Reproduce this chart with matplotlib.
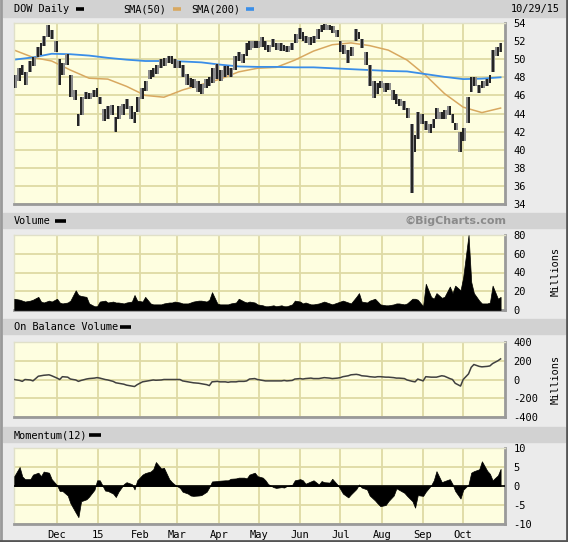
import numpy as np
import pandas as pd
import matplotlib
matplotlib.use("Agg")
import matplotlib.pyplot as plt
from matplotlib.patches import Rectangle
from matplotlib.lines import Line2D

# one bar every 2 business days, 2014-10-30 .. 2015-10-29
days = pd.bdate_range("2014-10-30", "2015-10-29")[::2]

price_high = [48.2, 49.0, 49.4, 48.6, 49.8, 50.2, 51.4, 51.8, 52.6, 53.8,
              53.2, 52.0, 50.0, 49.6, 50.6, 48.2, 46.6, 44.0, 45.8, 46.4,
              46.3, 46.6, 46.8, 45.8, 44.5, 44.8, 44.9, 43.6, 44.8, 45.0,
              45.6, 44.8, 44.2, 45.8, 46.8, 47.6, 48.8, 49.0, 49.4, 50.0,
              50.1, 50.4, 50.3, 50.0, 49.8, 49.4, 48.4, 47.9, 47.8, 47.6,
              47.3, 47.8, 48.0, 49.0, 49.5, 48.8, 49.2, 49.3, 49.0, 50.3,
              50.8, 50.6, 51.8, 52.0, 52.0, 52.0, 52.4, 52.0, 51.6, 52.2,
              51.8, 51.8, 51.6, 51.5, 51.8, 52.8, 53.4, 53.0, 52.6, 52.4,
              52.6, 53.3, 53.8, 53.9, 53.8, 53.7, 53.2, 52.0, 51.6, 51.0,
              51.4, 53.3, 53.0, 52.2, 50.8, 49.4, 47.6, 47.4, 47.6, 47.4,
              47.4, 46.6, 46.2, 45.6, 45.4, 44.6, 42.8, 41.6, 44.2, 44.0,
              43.2, 42.8, 43.4, 44.6, 44.2, 44.4, 44.8, 44.0, 43.0, 42.0,
              42.4, 45.8, 48.0, 48.0, 47.2, 47.6, 47.8, 48.2, 51.0, 51.3,
              51.8]
price_low = [46.8, 47.6, 48.2, 47.2, 48.6, 49.2, 50.2, 50.5, 51.5, 52.4,
             52.2, 50.8, 47.2, 48.2, 49.4, 45.8, 45.5, 42.6, 43.8, 45.6,
             45.6, 45.8, 45.8, 45.0, 43.2, 43.4, 43.8, 42.0, 43.4, 43.8,
             44.5, 43.4, 43.0, 44.2, 45.6, 46.5, 47.8, 48.0, 48.4, 49.0,
             49.2, 49.6, 49.5, 49.0, 49.0, 48.0, 47.2, 46.9, 46.8, 46.4,
             46.1, 46.8, 47.0, 47.4, 47.8, 47.6, 48.0, 48.3, 48.0, 48.8,
             49.8, 49.6, 50.4, 51.0, 51.2, 51.2, 51.4, 51.0, 50.8, 51.3,
             51.0, 50.9, 50.9, 50.8, 51.0, 51.8, 52.2, 52.0, 51.8, 51.6,
             51.8, 52.2, 53.0, 53.2, 53.2, 52.9, 52.4, 50.8, 50.6, 49.6,
             50.4, 52.0, 52.2, 51.2, 49.4, 47.0, 45.7, 46.2, 46.8, 46.4,
             46.6, 45.5, 45.0, 44.8, 44.4, 43.5, 35.2, 39.8, 41.2, 42.8,
             42.2, 41.8, 42.4, 43.4, 43.4, 43.4, 43.8, 43.0, 42.2, 39.8,
             41.0, 43.0, 46.4, 47.0, 46.3, 46.8, 47.0, 47.4, 48.6, 50.3,
             50.8]

# moving averages read every 14 days
sma_dates = pd.date_range("2014-10-30", "2015-10-29", freq="14D")
sma50 = [51.0, 50.2, 49.8, 48.8, 47.9, 47.8, 47.0, 46.0, 45.8, 46.6, 47.2, 47.8, 48.6, 49.0,
         49.1, 49.9, 50.9, 51.6, 51.8, 51.5, 51.0, 49.9, 48.2, 46.2, 44.7, 44.1, 44.6]
sma200 = [49.95, 50.2, 50.6, 50.55, 50.4, 50.15, 49.95, 49.8, 49.8, 49.75, 49.65, 49.4, 49.2, 49.15,
          49.15, 49.1, 49.1, 49.0, 48.9, 48.8, 48.7, 48.65, 48.35, 48.05, 47.8, 47.85, 48.0]

volume = [12, 11, 10, 9, 10, 11, 14, 9, 8, 10,
          9, 12, 8, 7, 8, 10, 21, 16, 15, 14,
          7, 4, 4, 9, 10, 8, 9, 8, 8, 7,
          8, 9, 16, 10, 9, 14, 7, 6, 6, 6,
          7, 8, 8, 9, 8, 7, 7, 8, 9, 10,
          10, 9, 11, 19, 7, 6, 6, 6, 7, 8,
          12, 9, 8, 9, 8, 6, 5, 4, 4, 5,
          4, 5, 4, 4, 6, 10, 9, 7, 8, 6,
          6, 7, 8, 9, 7, 6, 8, 9, 10, 8,
          7, 14, 18, 9, 8, 10, 12, 9, 6, 5,
          5, 6, 7, 7, 6, 7, 12, 12, 11, 4,
          28, 14, 12, 18, 13, 14, 25, 18, 26, 21,
          35, 80, 30, 18, 10, 7, 7, 8, 26, 12,
          14]

obv = [0, -10, -20, 0, -5, -15, 35, 40, 45, 50,
       40, 15, 0, 30, 25, 5, -5, -20, -10, 5,
       10, 15, 20, 15, 0, -5, -20, -35, -40, -50,
       -60, -70, -75, -55, -25, -20, -10, -5, -8, -5,
       0, 0, 0, 0, 0, -15, -25, -30, -35, -40,
       -45, -55, -65, -25, -20, -25, -25, -30, -25, -25,
       -20, -20, -15, 5, 10, 0, -10, -15, -15, -15,
       -15, -15, -10, -15, -10, 5, 10, 5, 10, 15,
       10, 10, 15, 20, 15, 10, 15, 20, 30, 40,
       50, 55, 50, 40, 35, 30, 25, 30, 30, 25,
       25, 20, 15, 15, 10, -5, -20, -25, 5, -15,
       30, 25, 25, 25, 40, 35, 10, 0, -40, -70,
       0, 60, 130, 160, 140, 135, 140, 145, 170, 200,
       220]

momentum = [2.6, 5, 2.5, 1.8, 1.8, 3, 3.5, 2.6, 3.8, 3.5,
            1.8, 0.2, -1.3, -1.3, -2.5, -4.5, -7.0, -8.2, -4, -3.5,
            -2.8, -1, 1.5, 1.5, -1.2, -1.3, -2, -2.9, -1.5, 0.5,
            1, 0.5, -0.9, 1.5, 3, 3.4, 3.8, 4.4, 6.3, 4.6,
            4.8, 1.8, 1, 0.4, -0.5, -1.5, -2, -2.5, -2.6, -2.5,
            -2.4, -1.5, -0.3, 1.2, 1.3, 1.4, 1.5, 1.5, 1.9, 2,
            2.2, 2.2, 2, 3, 3.5, 2.6, 2.2, 1.5, 0.5, -0.3,
            -0.5, -0.3, -0.4, 0, 0.3, 1.5, 1.8, 1.5, 0.6, 1.2,
            1.5, 0.4, 1.3, 1, 0.9, 1.9, 0.3, -0.8, -2, -3,
            -2.2, -0.8, 0.4, -0.4, -0.9, -2.5, -3.8, -4.6, -5.3, -5,
            -4, -2.5, -0.6, -1, -1.8, -2.6, -4, -5.7, -2.4, -2.6,
            -1.5, 0.2, 1.5, 3.9, 1, 1.3, 1.8, 0.5, -1.3, -3.3,
            -1, 0.4, 3.5, 3.9, 4.4, 6.5, 4, 3.2, 1.5, 2.8,
            4.5]

month_ticks = ["2014-12-01", "2015-01-01", "2015-02-01", "2015-03-01", "2015-04-01", "2015-05-01",
               "2015-06-01", "2015-07-01", "2015-08-01", "2015-09-01", "2015-10-01"]
month_labels = ["Dec", "15", "Feb", "Mar", "Apr", "May", "Jun", "Jul", "Aug", "Sep", "Oct"]

#= style ================================
plt.rcParams["font.family"] = "DejaVu Sans Mono"
plt.rcParams["axes.unicode_minus"] = False
BG = "#ebebeb"
BAND = "#d2d2d2"
PLOT = "#fefee0"
GRID = "#dedaa4"
W, H = 568, 542

def fx(x): return x / W
def fy(y): return 1 - y / H

fig = plt.figure(figsize=(W / 100, H / 100), dpi=100, facecolor=BG)

# header bands
for y0, y1 in [(0, 17), (213, 228), (319, 334), (427, 442)]:
    fig.add_artist(Rectangle((fx(3), fy(y1)), fx(565) - fx(3), (y1 - y0) / H,
                             transform=fig.transFigure, color=BAND, zorder=0))
# outer frame
fig.add_artist(Line2D([fx(1), fx(1)], [0, 1], color="#9a9a9a", lw=2))
fig.add_artist(Line2D([fx(566.5), fx(566.5)], [0, 1], color="#555555", lw=2))
fig.add_artist(Line2D([0, 1], [fy(540.5), fy(540.5)], color="#555555", lw=2))

def legend_mark(x0, x1, y, c):
    fig.add_artist(Line2D([fx(x0), fx(x1)], [fy(y), fy(y)], color=c, lw=2.6, solid_capstyle="butt"))

fs = 7.4
fig.text(fx(14), fy(9), "DOW Daily", fontsize=fs, va="center")
legend_mark(76, 84, 9, "black")
fig.text(fx(123), fy(9), "SMA(50)", fontsize=fs, va="center")
legend_mark(173, 181, 9, "#d8a860")
fig.text(fx(191), fy(9), "SMA(200)", fontsize=fs, va="center")
legend_mark(246, 254, 9, "#3a8ee8")
fig.text(fx(560), fy(9), "10/29/15", fontsize=fs, va="center", ha="right")

fig.text(fx(14), fy(221), "Volume", fontsize=fs, va="center")
legend_mark(55, 66, 221, "black")
fig.text(fx(506), fy(221), "\u00a9BigCharts.com", fontsize=8, va="center", ha="right",
         family="DejaVu Sans", weight="bold", color="#8a8a8a")
fig.text(fx(14), fy(327), "On Balance Volume", fontsize=fs, va="center")
legend_mark(120, 131, 327, "black")
fig.text(fx(14), fy(435), "Momentum(12)", fontsize=fs, va="center")
legend_mark(89, 101, 435, "black")

xlim = (pd.Timestamp("2014-10-29 19:00"), pd.Timestamp("2015-11-01 07:00"))
mt = pd.to_datetime(month_ticks)

def make_ax(top, bottom, ymin, ymax, step):
    ax = fig.add_axes([fx(14), fy(bottom), fx(505) - fx(14), (bottom - top) / H])
    ax.set_facecolor(PLOT)
    ax.set_xlim(*xlim)
    ax.set_ylim(ymin, ymax)
    ax.set_xticks(mt)
    ax.set_xticklabels([])
    yt = np.arange(ymin, ymax + step / 2, step)
    ax.set_yticks(yt)
    ax.set_yticklabels(["%d" % v for v in yt])
    ax.yaxis.tick_right()
    ax.tick_params(length=0, labelsize=7.5, pad=6)
    ax.grid(True, color=GRID, lw=1.3)
    ax.set_axisbelow(True)
    for s in ["top", "left"]:
        ax.spines[s].set_color("#e0e0c8")
        ax.spines[s].set_linewidth(1)
    for s in ["bottom", "right"]:
        ax.spines[s].set_color("#9a9a9a")
        ax.spines[s].set_linewidth(2)
    return ax

# price
ax = make_ax(23, 204, 34, 54, 2)
ax.plot(sma_dates, sma50, color="#d8a860", lw=1.1, zorder=2)
ax.plot(sma_dates, sma200, color="#3a8ee8", lw=1.3, zorder=2)
ax.fill_between(days, price_low, price_high, step="mid", color="#8c8c8c", lw=0, zorder=3)
ax.vlines(days, price_low, price_high, color="#111111", lw=1.2, zorder=4)

# volume
ax = make_ax(235, 310, 0, 80, 20)
ax.fill_between(days, 0, volume, color="black", lw=0.5, zorder=3)
fig.text(fx(556), fy(272), "Millions", fontsize=7.4, rotation=90, va="center", ha="center")

# on balance volume
ax = make_ax(342, 417, -400, 400, 200)
ax.plot(days, obv, color="#404040", lw=1.1, zorder=3)
fig.text(fx(556), fy(380), "Millions", fontsize=7.4, rotation=90, va="center", ha="center")

# momentum
ax = make_ax(448, 524, -10, 10, 5)
ax.fill_between(days, 0, momentum, color="black", lw=0.5, zorder=3)
ax.axhline(0, color="black", lw=1.2, zorder=3)
ax.set_xticklabels(month_labels)
ax.tick_params(axis="x", pad=4)

fig.savefig("out.png", dpi=100, facecolor=BG)
